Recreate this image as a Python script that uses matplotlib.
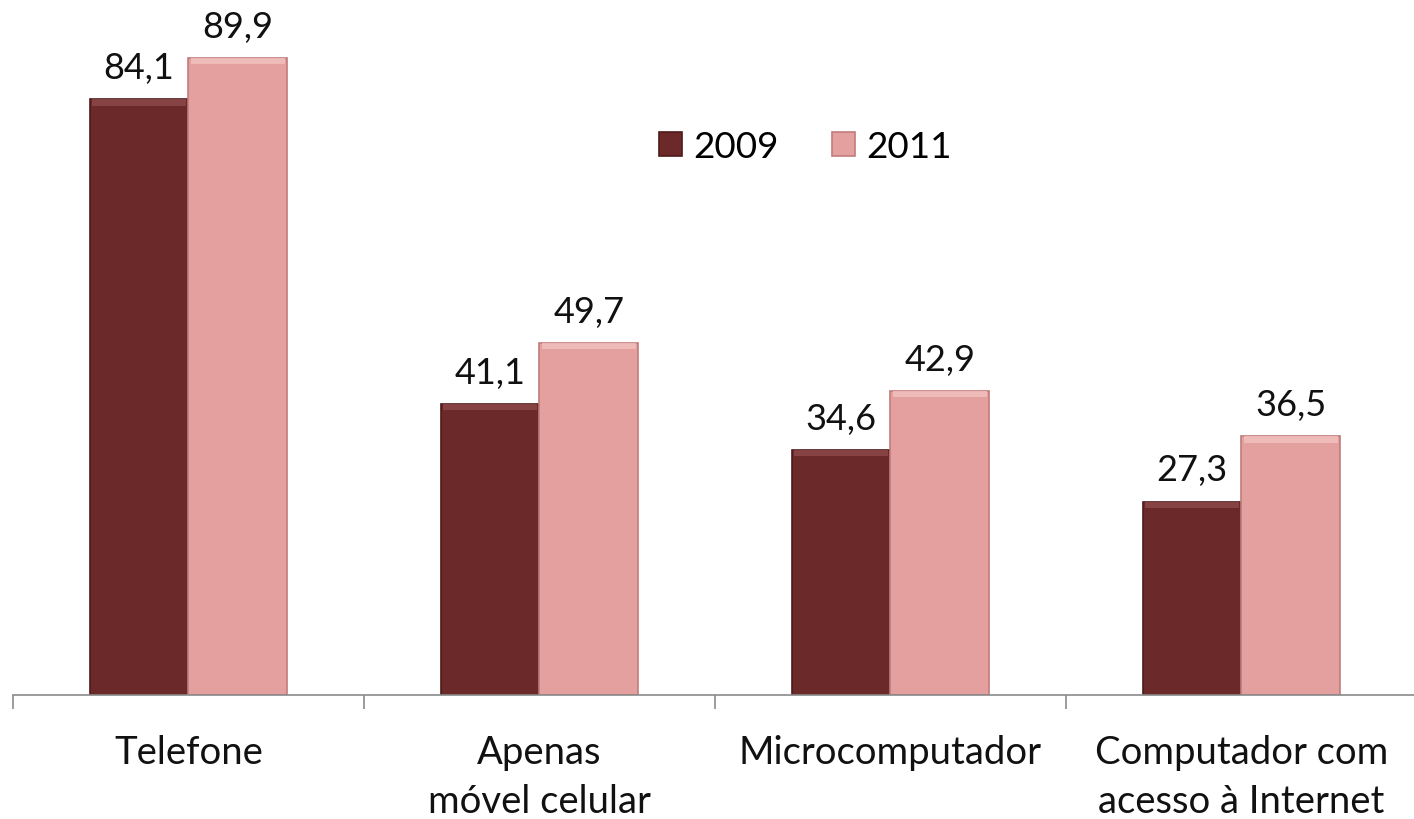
import matplotlib
matplotlib.use("Agg")
import matplotlib.pyplot as plt
import numpy as np

categories = ["Telefone", "Apenas\nmóvel celular", "Microcomputador", "Computador com\nacesso à Internet"]
series_names = ["2009", "2011"]
values_2009 = [84.1, 41.1, 34.6, 27.3]
values_2011 = [89.9, 49.7, 42.9, 36.5]
value_labels_2009 = ["84,1", "41,1", "34,6", "27,3"]
value_labels_2011 = ["89,9", "49,7", "42,9", "36,5"]

colors = ["#6C2929", "#E4A09E"]
edge_colors = ["#4E1A1A", "#C07C7A"]
highlight = ["#8E4A4A", "#F2C3C1"]

plt.rcParams['font.family'] = ['Lato', 'DejaVu Sans']

fig = plt.figure(figsize=(14.14, 8.2), dpi=100)
ax = fig.add_axes([13/1414, 1 - 696/820, 1404/1414, 696/820])

x = np.arange(len(categories))
w = 0.282
fs_val = 26
fs_cat = 27.5
fs_leg = 26.6

for i, (vals, labs) in enumerate([(values_2009, value_labels_2009), (values_2011, value_labels_2011)]):
    xpos = x + (i - 0.5) * w
    ax.bar(xpos, vals, width=w, color=colors[i], edgecolor=edge_colors[i], linewidth=1.2,
           label=series_names[i], zorder=2)
    # top bevel highlight
    ax.bar(xpos, [0.9] * len(vals), bottom=np.array(vals) - 0.9, width=w * 0.94,
           color=highlight[i], linewidth=0, zorder=3, alpha=0.8)
    for xp, v, s in zip(xpos, vals, labs):
        ax.annotate(s, (xp, v), xytext=(0, 11), textcoords="offset points",
                    ha="center", va="bottom", fontsize=fs_val, color="#111111")

ax.set_xlim(-0.5, len(categories) - 0.5)
ax.set_ylim(0, 696 / 7.085)

for s in ["top", "right", "left"]:
    ax.spines[s].set_visible(False)
ax.spines["bottom"].set_color("#8A8A8A")
ax.spines["bottom"].set_linewidth(1.2)
ax.set_yticks([])
ax.set_xticks(x)
ax.set_xticklabels(categories, fontsize=fs_cat, color="#111111", va="top", linespacing=1.45)
ax.tick_params(axis="x", which="major", length=0, pad=28)
ax.set_xticks(np.arange(-0.5, len(categories)), minor=True)
ax.tick_params(axis="x", which="minor", length=10, width=1.2, color="#8A8A8A")

ax.legend(loc="upper left", bbox_to_anchor=(659/1414, 1 - 131/820), bbox_transform=fig.transFigure,
          ncol=2, frameon=False, fontsize=fs_leg, handlelength=0.62, handleheight=0.62,
          handletextpad=0.3, columnspacing=1.45, borderaxespad=0, borderpad=0)

fig.savefig("out.png", dpi=100)
